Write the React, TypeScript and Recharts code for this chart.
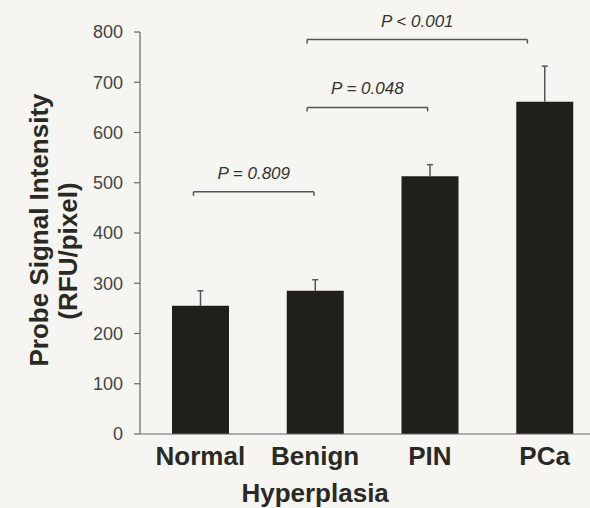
import { BarChart, Bar, XAxis, YAxis, ReferenceLine } from "recharts";

const categories = ["Normal", "Benign", "PIN", "PCa"];
const tickLabelLines = [["Normal"], ["Benign", "Hyperplasia"], ["PIN"], ["PCa"]];
const signal = [255, 285, 513, 661];
const errorUp = [30, 22, 23, 71];
const yTicks = [0, 100, 200, 300, 400, 500, 600, 700, 800];

// significance brackets, x in category units on a hidden numeric axis
const bracketLabels = ["P = 0.809", "P = 0.048", "P < 0.001"];
const bracketFrom = [0.44, 1.43, 1.43];
const bracketTo = [1.49, 2.48, 3.35];
const bracketY = [482, 650, 785];
const bracketDrop = 8;

const FONT = '"Liberation Sans", Arial, Helvetica, sans-serif';

const data = categories.map((name, i) => ({
  name,
  pos: i + 0.5,
  value: signal[i],
  err: errorUp[i],
}));

const XTick = (props: any) => {
  const { x, y, payload } = props;
  const lines = tickLabelLines[categories.indexOf(payload.value)] || [payload.value];
  return (
    <text
      x={x}
      y={y}
      textAnchor="middle"
      fontFamily={FONT}
      fontWeight="bold"
      fontSize={26}
      fill="#2a2a25"
    >
      {lines.map((t: string, i: number) => (
        <tspan key={t} x={x} dy={i === 0 ? 31 : 37}>
          {t}
        </tspan>
      ))}
    </text>
  );
};

// upper-only error bar, drawn in the stacked segment above each bar
const Whisker = (props: any) => {
  const { x, y, width, height } = props;
  const cx = x + width / 2;
  return (
    <g stroke="#555" strokeWidth={1.5}>
      <line x1={cx} y1={y} x2={cx} y2={y + height} />
      <line x1={cx - 3} y1={y} x2={cx + 3} y2={y} />
    </g>
  );
};

const YTitle = () => (
  <g fontFamily={FONT} fontWeight="bold" fontSize={26} fill="#2a2a25">
    <text x={48} y={230} textAnchor="middle" transform="rotate(-90, 48, 230)">
      Probe Signal Intensity
    </text>
    <text x={77} y={251} textAnchor="middle" transform="rotate(-90, 77, 251)">
      (RFU/pixel)
    </text>
  </g>
);

export default function App() {
  return (
    <div
      style={{
        position: "fixed",
        top: 0,
        left: 0,
        width: 590,
        height: 508,
        overflow: "hidden",
        background: "#f6f5f1",
      }}
    >
      <BarChart
        width={602}
        height={508}
        data={data}
        margin={{ top: 32, right: 0, left: 0, bottom: 0 }}
      >
        <XAxis
          dataKey="name"
          height={74}
          padding={{ left: 3, right: 0 }}
          tickLine={false}
          tickSize={0}
          tickMargin={0}
          axisLine={{ stroke: "#666", strokeWidth: 1.2 }}
          tick={<XTick />}
          interval={0}
        />
        <XAxis
          xAxisId="br"
          dataKey="pos"
          type="number"
          domain={[0, 4]}
          padding={{ left: 3, right: 0 }}
          hide
        />
        <YAxis
          width={140}
          domain={[0, 800]}
          ticks={yTicks}
          interval={0}
          tickSize={6}
          tickMargin={11}
          axisLine={{ stroke: "#666", strokeWidth: 1.2 }}
          tickLine={{ stroke: "#666", strokeWidth: 1.2 }}
          tick={{ fill: "#444", fontSize: 18, fontFamily: FONT }}
          label={{ content: () => <YTitle /> }}
        />
        <Bar
          dataKey="value"
          stackId="s"
          fill="#1f1f1b"
          barSize={57}
          isAnimationActive={false}
        />
        <Bar
          dataKey="err"
          stackId="s"
          barSize={57}
          shape={<Whisker />}
          isAnimationActive={false}
        />
        {bracketLabels.map((lab, i) => (
          <ReferenceLine
            key={"h" + i}
            xAxisId="br"
            ifOverflow="visible"
            segment={[
              { x: bracketFrom[i], y: bracketY[i] },
              { x: bracketTo[i], y: bracketY[i] },
            ]}
            stroke="#555"
            strokeWidth={1.5}
            label={{
              value: lab,
              position: "top",
              offset: 13,
              fill: "#333",
              fontSize: 17,
              fontStyle: "italic",
              fontFamily: FONT,
            }}
          />
        ))}
        {bracketLabels.map((_, i) => (
          <ReferenceLine
            key={"l" + i}
            xAxisId="br"
            ifOverflow="visible"
            segment={[
              { x: bracketFrom[i], y: bracketY[i] },
              { x: bracketFrom[i], y: bracketY[i] - bracketDrop },
            ]}
            stroke="#555"
            strokeWidth={1.5}
          />
        ))}
        {bracketLabels.map((_, i) => (
          <ReferenceLine
            key={"r" + i}
            xAxisId="br"
            ifOverflow="visible"
            segment={[
              { x: bracketTo[i], y: bracketY[i] },
              { x: bracketTo[i], y: bracketY[i] - bracketDrop },
            ]}
            stroke="#555"
            strokeWidth={1.5}
          />
        ))}
      </BarChart>
    </div>
  );
}
